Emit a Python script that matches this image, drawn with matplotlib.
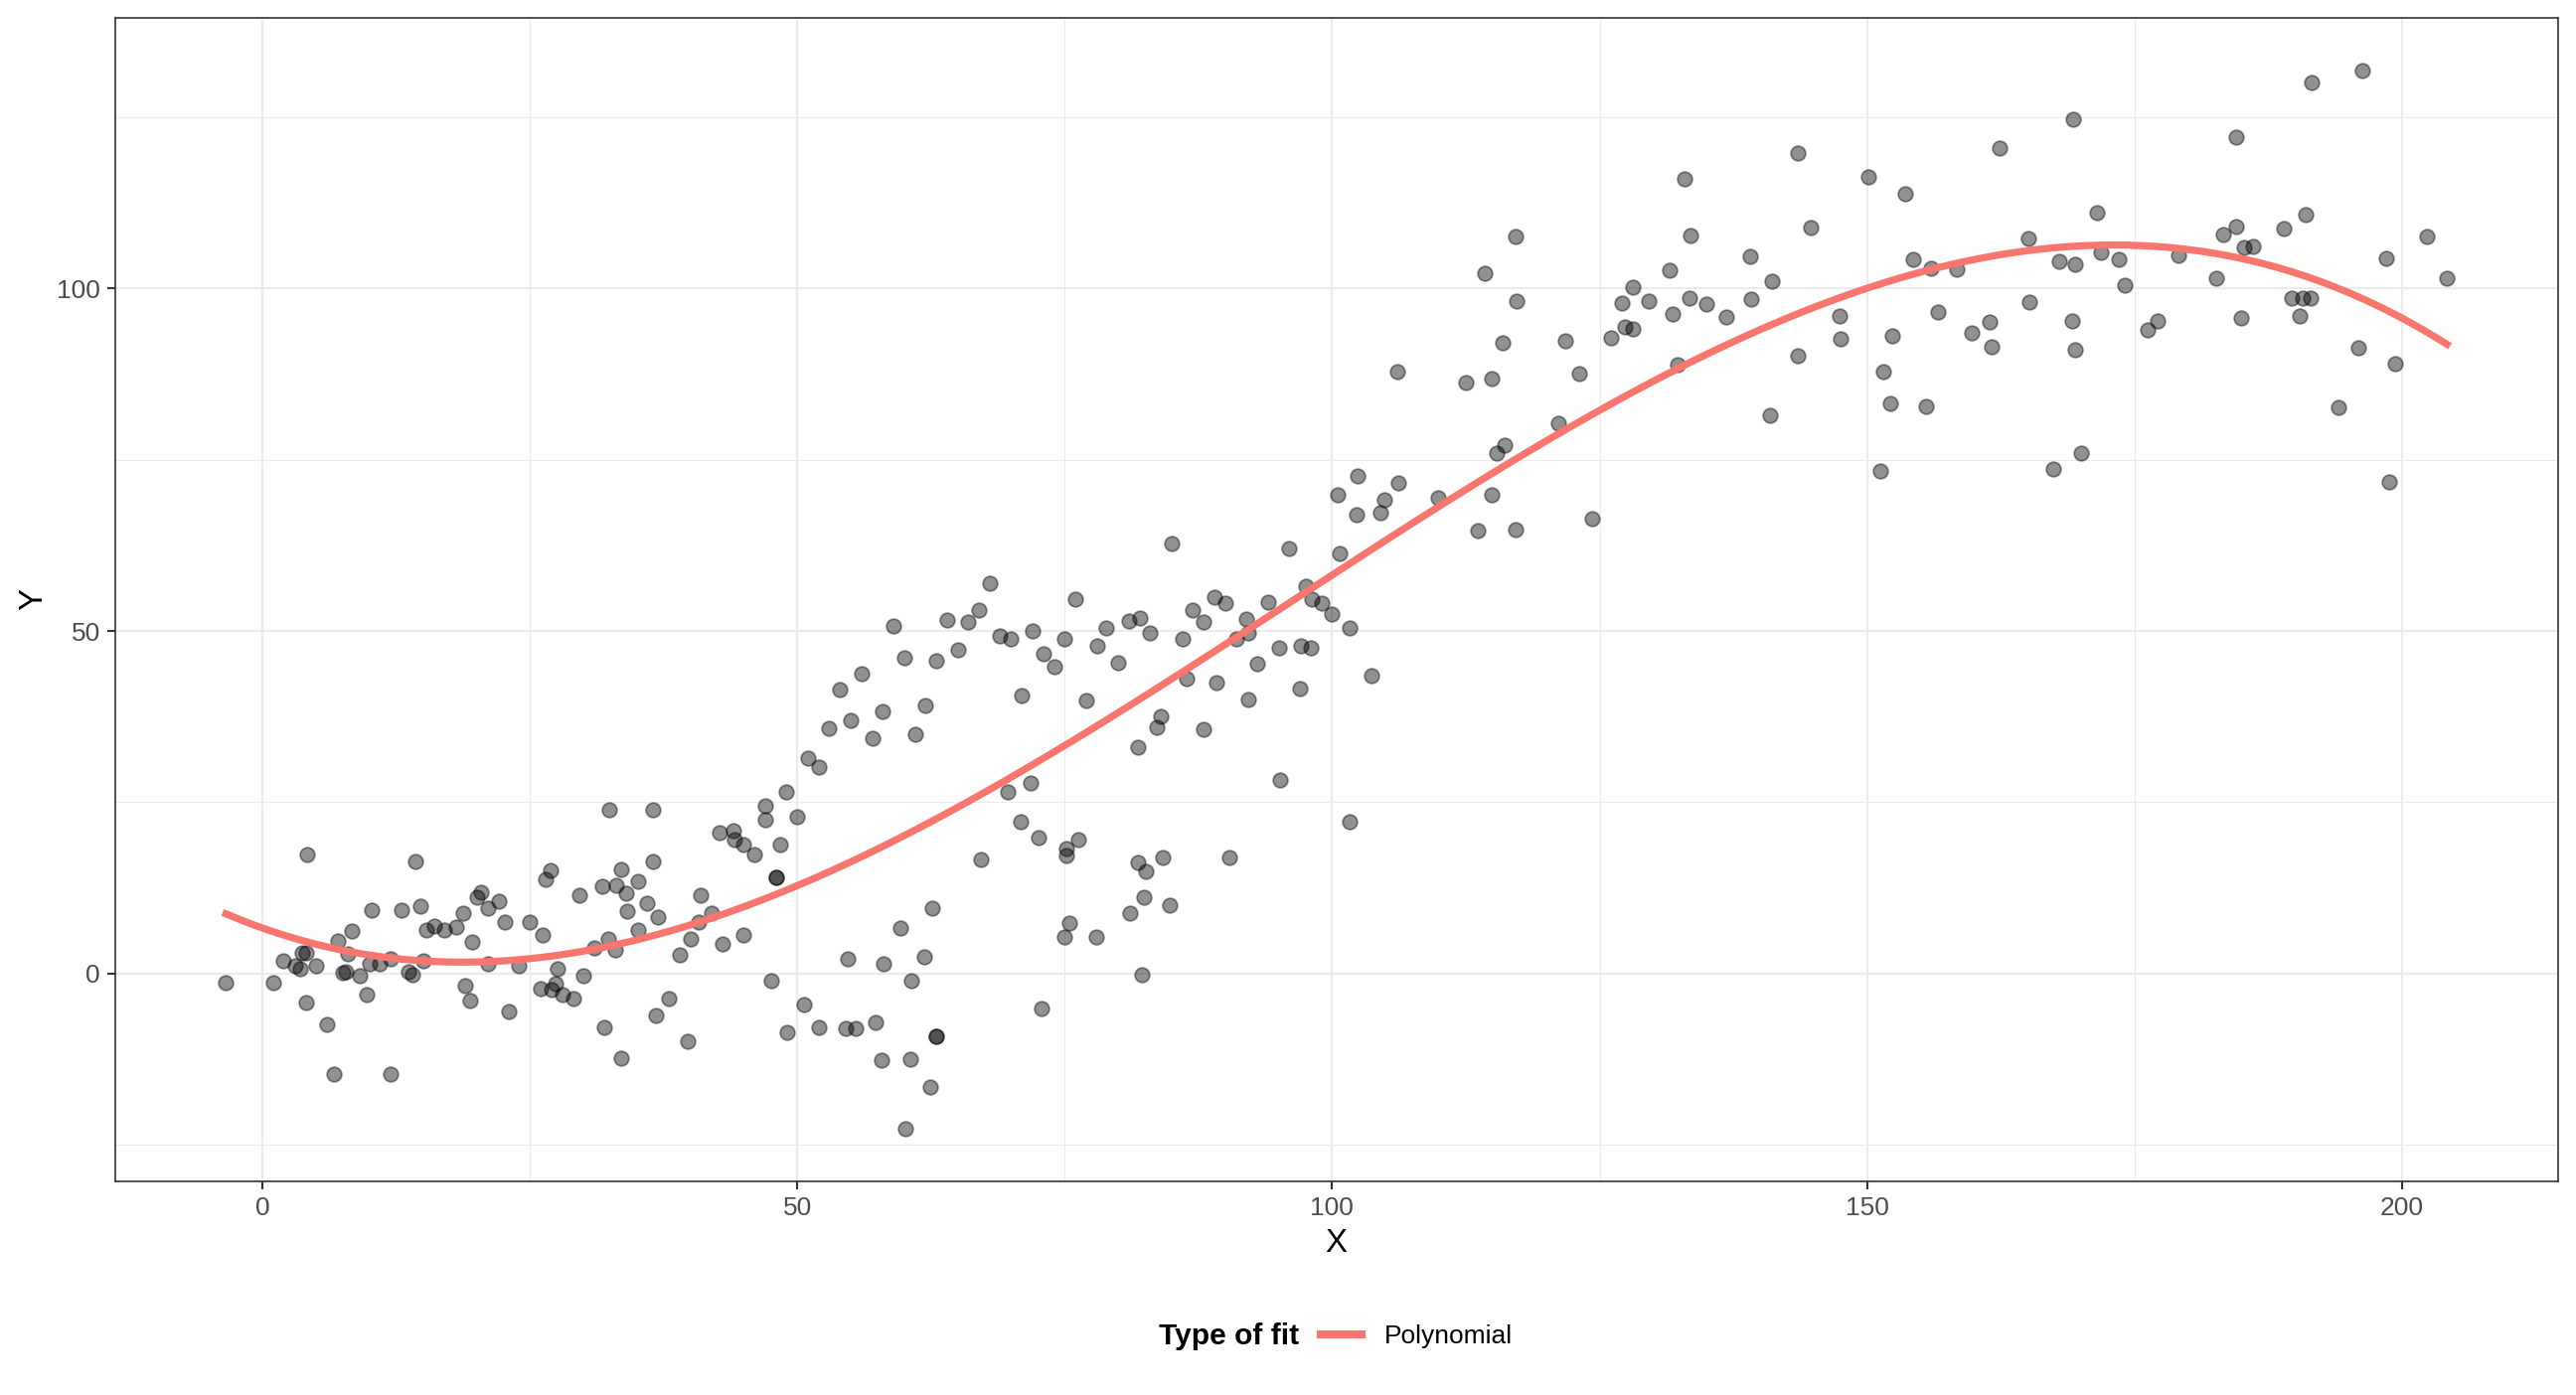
import numpy as np
import matplotlib
matplotlib.use('Agg')
import matplotlib.pyplot as plt
from matplotlib.lines import Line2D
from matplotlib.ticker import MultipleLocator

plt.rcParams['font.family'] = ['Liberation Sans', 'DejaVu Sans']

x_vals = [
    -3.4, 4.2, 1.0, 2.0, 3.1, 3.5, 3.7, 4.1, 5.0, 4.1, 6.0, 6.7, 7.1, 8.0, 8.4, 7.5, 7.8, 9.1, 9.8, 10.2,
    10.0, 11.0, 12.0, 12.0, 13.0, 14.3, 14.8, 13.7, 14.0, 15.1, 15.3, 16.1, 17.0, 18.1, 18.8, 19.6, 20.1, 20.4,
    21.1, 22.1, 19.0, 19.4, 21.1, 22.7, 23.0, 24.0, 25.0, 26.2, 26.5, 26.9, 26.0, 27.0, 27.4, 27.6, 28.1, 29.1,
    29.6, 30.0, 31.0, 31.8, 32.4, 32.3, 33.0, 33.1, 33.5, 34.0, 34.1, 32.0, 33.5, 35.1, 35.1, 36.0, 36.5, 36.5,
    37.0, 36.8, 38.0, 39.0, 39.8, 40.0, 40.8, 41.0, 42.0,
    59.0, 64.0, 66.0, 68.9, 70.0, 72.0, 75.0, 78.9, 78.0, 60.0, 63.0, 65.0, 73.0, 74.0, 56.0, 54.0, 71.0, 77.0,
    62.0, 58.0, 55.0, 53.0, 57.0, 61.0, 51.0, 52.0, 49.0, 47.0, 47.0, 50.0, 42.7, 44.0, 44.1, 45.0, 46.0, 48.4,
    48.0, 48.0, 43.0, 45.0, 69.7, 71.8, 70.9, 72.6, 75.2, 75.2, 76.3, 67.2, 62.6, 59.6, 61.9, 54.7, 58.1, 75.4,
    75.0, 77.9, 47.6, 50.6, 49.1, 52.0, 54.5, 55.5, 57.3, 60.7, 63.0, 63.0, 57.9, 60.6, 62.4, 60.1, 72.8,
    68.0, 76.0, 67.0,
    89.0, 90.0, 94.0, 98.1, 99.0, 100.0, 101.6, 87.0, 88.0, 92.0, 92.2, 91.0, 81.0, 82.0, 83.0, 86.0, 80.0, 95.0,
    97.1, 98.0, 93.0, 86.4, 89.2, 97.0, 92.2, 103.7, 84.0, 83.6, 88.0, 81.8, 95.1, 101.6, 81.8, 82.6, 84.2, 90.4,
    82.4, 84.8, 81.1, 82.2,
    117.1, 114.3, 117.2, 115.9, 121.8, 106.1, 112.5, 114.9, 123.1, 121.1, 116.1, 115.4, 109.9, 114.9, 124.3,
    113.6, 117.1, 102.4, 106.2, 100.5, 104.9, 102.3, 104.5, 100.7, 96.0, 85.0, 97.5,
    169.3, 162.4, 143.5, 150.1, 132.9, 153.6, 171.5, 144.7, 133.5, 165.1, 139.1, 171.9, 154.3, 168.0, 169.4,
    156.0, 158.4, 131.5, 141.1, 128.1, 127.1, 129.6, 133.4, 135.0, 139.2, 131.8, 136.8, 147.4, 156.6, 165.2,
    161.5, 169.2, 127.4, 128.1, 126.1, 152.4, 159.8, 147.5, 161.6, 169.4, 143.5, 132.3, 151.5, 152.2, 155.5,
    140.9, 170.0, 167.4, 151.2,
    196.3, 191.6, 184.5, 184.5, 183.3, 191.0, 189.0, 185.2, 186.1, 202.3, 198.5, 173.5, 179.1, 174.1, 182.6,
    204.2, 189.7, 190.7, 191.5, 190.4, 185.0, 177.2, 176.2, 195.9, 199.4, 194.1, 198.8,
]
y_vals = [
    -1.3, 17.4, -1.3, 1.8, 1.2, 0.7, 3.1, 3.1, 1.1, -4.2, -7.4, -14.6, 4.7, 2.9, 6.2, 0.2, 0.3, -0.3, -3.1, 9.3,
    1.5, 1.5, 2.2, -14.6, 9.2, 16.4, 9.9, 0.3, -0.1, 1.9, 6.4, 6.9, 6.3, 6.8, 8.9, 4.6, 11.1, 11.9,
    9.6, 10.5, -1.8, -3.9, 1.5, 7.5, -5.5, 1.2, 7.5, 5.6, 13.8, 15.1, -2.2, -2.4, -1.4, 0.7, -3.1, -3.6,
    11.5, -0.3, 3.8, 12.8, 23.9, 5.0, 3.5, 12.9, 15.2, 11.8, 9.1, -7.8, -12.3, 13.5, 6.3, 10.3, 23.9, 16.3,
    8.2, -6.1, -3.6, 2.8, -9.8, 5.1, 7.5, 11.4, 8.8,
    50.7, 51.6, 51.3, 49.3, 48.9, 50.0, 48.8, 50.5, 47.8, 46.1, 45.6, 47.2, 46.7, 44.8, 43.8, 41.5, 40.6, 39.8,
    39.2, 38.2, 36.9, 35.8, 34.4, 34.9, 31.4, 30.1, 26.5, 24.5, 22.5, 22.9, 20.6, 20.9, 19.6, 18.8, 17.4, 18.8,
    14.1, 14.1, 4.4, 5.7, 26.5, 27.8, 22.2, 19.9, 18.2, 17.3, 19.5, 16.6, 9.6, 6.7, 2.5, 2.1, 1.4, 7.4,
    5.3, 5.4, -1.0, -4.5, -8.5, -7.8, -8.0, -8.0, -7.1, -1.0, -9.2, -9.2, -12.6, -12.5, -16.5, -22.6, -5.1,
    57.0, 54.7, 53.1,
    54.9, 54.0, 54.2, 54.6, 54.1, 52.5, 50.4, 53.1, 51.3, 51.8, 49.7, 48.9, 51.5, 51.9, 49.7, 48.9, 45.3, 47.6,
    47.9, 47.6, 45.2, 43.0, 42.4, 41.6, 40.0, 43.5, 37.5, 35.9, 35.7, 33.1, 28.2, 22.2, 16.2, 14.9, 17.0, 16.9,
    11.2, 10.0, 8.8, -0.1,
    107.6, 102.2, 98.2, 92.1, 92.3, 87.8, 86.2, 86.8, 87.5, 80.3, 77.1, 76.0, 69.4, 69.8, 66.4,
    64.6, 64.8, 72.6, 71.6, 69.9, 69.2, 67.0, 67.2, 61.3, 62.0, 62.7, 56.6,
    124.6, 120.5, 119.7, 116.3, 116.0, 113.8, 111.0, 108.8, 107.7, 107.2, 104.6, 105.3, 104.2, 104.0, 103.5,
    102.9, 102.8, 102.6, 101.0, 100.1, 97.9, 98.1, 98.6, 97.7, 98.4, 96.3, 95.8, 95.9, 96.6, 98.0,
    95.1, 95.3, 94.4, 94.1, 92.7, 93.1, 93.5, 92.6, 91.4, 91.1, 90.2, 88.9, 87.8, 83.2, 82.7,
    81.4, 75.9, 73.6, 73.3,
    131.8, 130.0, 122.0, 109.0, 107.9, 110.7, 108.7, 105.9, 106.1, 107.5, 104.4, 104.2, 104.8, 100.4, 101.4,
    101.4, 98.6, 98.6, 98.6, 96.0, 95.6, 95.2, 93.9, 91.3, 89.0, 82.6, 71.8,
]

fit_label = 'Polynomial'
legend_title = 'Type of fit'
x_ticks = [0, 50, 100, 150, 200]
y_ticks = [0, 50, 100]

x = np.array(x_vals)
y = np.array(y_vals)

# cubic fit, like geom_smooth(method = "lm", formula = y ~ poly(x, 3))
coefs = np.polyfit(x, y, 3)
xs = np.linspace(x.min(), x.max(), 300)
ys = np.polyval(coefs, xs)

fig = plt.figure(figsize=(12, 6.5), dpi=216)
ax = fig.add_axes([0.0446, 0.1531, 0.993 - 0.0446, 0.9875 - 0.1531])

ax.scatter(x, y, s=24, color='black', alpha=0.43, linewidths=0.6, zorder=3)
ax.plot(xs, ys, color='#F8766D', lw=2.4, zorder=4)

# ggplot-like 5% expansion
xr = x.max() - x.min()
yr = y.max() - y.min()
ax.set_xlim(x.min() - 0.05 * xr, x.max() + 0.05 * xr)
ax.set_ylim(y.min() - 0.05 * yr, y.max() + 0.05 * yr)

ax.set_xticks(x_ticks)
ax.set_yticks(y_ticks)
ax.xaxis.set_minor_locator(MultipleLocator(25))
ax.yaxis.set_minor_locator(MultipleLocator(25))
ax.grid(which='major', color='#EBEBEB', lw=0.7, zorder=0)
ax.grid(which='minor', color='#EBEBEB', lw=0.35, zorder=0)
ax.set_axisbelow(True)
ax.tick_params(which='major', length=2.7, width=0.7, color='#333333',
               labelsize=8.8, labelcolor='#4D4D4D', pad=2.2)
ax.tick_params(which='minor', length=0)
for sp in ax.spines.values():
    sp.set_color('#333333')
    sp.set_linewidth(0.55)

ax.set_xlabel('X', fontsize=11, labelpad=2.75)
ax.set_ylabel('Y', fontsize=11, labelpad=2.75)

# legend at the bottom with title on the left
fig.text(0.5041, 0.042, legend_title, ha='right', va='center', fontsize=10, fontweight='bold')
handle = Line2D([], [], color='#F8766D', lw=2.7)
fig.legend(handles=[handle], labels=[fit_label], loc='center left',
           bbox_to_anchor=(0.5126, 0.042), frameon=False, fontsize=8.8,
           handlelength=1.56, handletextpad=0.86, borderpad=0, borderaxespad=0)

fig.savefig('out.png', dpi=216)
